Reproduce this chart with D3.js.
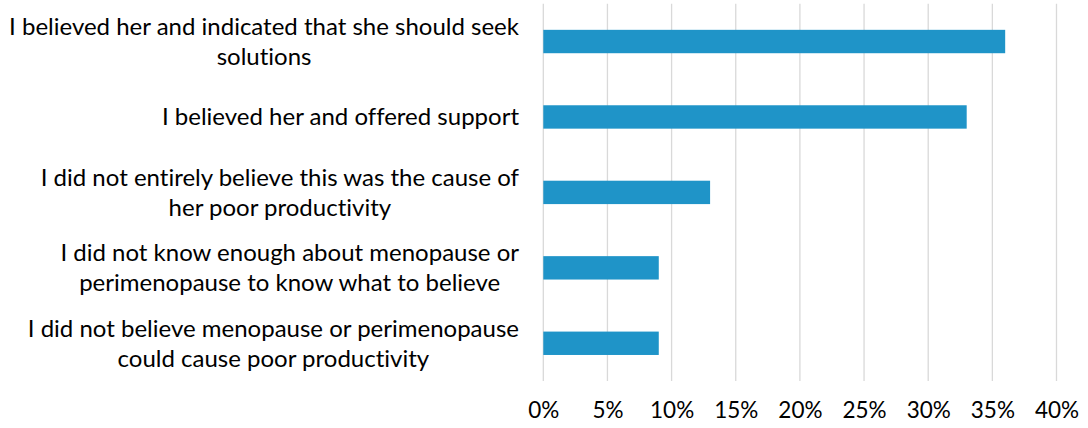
<!DOCTYPE html>
<html><head><meta charset="utf-8">
<script src="https://cdn.jsdelivr.net/npm/d3@7"></script>
<style>body{margin:0;background:#fff}svg{display:block}text{font-family:Lato,sans-serif;fill:#000;font-variant-ligatures:none;font-feature-settings:"liga" 0}</style>
</head><body><svg id="c" width="1088" height="428"></svg>
<script>
const categories = [
  ["I believed her and indicated that she should seek", "solutions"],
  ["I believed her and offered support"],
  ["I did not entirely believe this was the cause of", "her poor productivity"],
  ["I did not know enough about menopause or", "perimenopause to know what to believe"],
  ["I did not believe menopause or perimenopause", "could cause poor productivity"]
];
const values = [36, 33, 13, 9, 9];
const tickValues = [0, 5, 10, 15, 20, 25, 30, 35, 40];

const svg = d3.select("#c");
const x = d3.scaleLinear().domain([0, 40]).range([543.3, 1056.5]);
const y = d3.scaleBand().domain(d3.range(categories.length)).range([3.8, 381]).paddingInner(0.69).paddingOuter(0.345);

svg.append("g").selectAll("line").data(tickValues).join("line")
  .attr("x1", d => x(d)).attr("x2", d => x(d))
  .attr("y1", 3.8).attr("y2", 381)
  .attr("stroke", "#d9d9d9").attr("stroke-width", 1.3);

svg.append("g").selectAll("rect").data(values).join("rect")
  .attr("x", x(0)).attr("y", (d, i) => y(i))
  .attr("width", d => x(d) - x(0)).attr("height", y.bandwidth())
  .attr("fill", "#1F94C8");

const xAxis = d3.axisBottom(x).tickValues(tickValues).tickFormat(d => d + "%").tickSize(0).tickPadding(0);
const gx = svg.append("g").attr("transform", "translate(0,402)").call(xAxis);
gx.select(".domain").remove();
gx.selectAll("text").attr("font-size", 22.5).attr("font-family", "Lato").attr("fill", "#000");

const fs = 24, lh = 30, rightEdge = 519;
const lg = svg.append("g");
categories.forEach((lines, i) => {
  const cy = y(i) + y.bandwidth() / 2;
  const t = lg.append("text").attr("font-size", fs).attr("text-anchor", "middle");
  const spans = lines.map((l, k) => t.append("tspan").text(l)
    .attr("y", cy + (k - (lines.length - 1) / 2) * lh).attr("dy", "0.35em"));
  const w = d3.max(spans, s => s.node().getComputedTextLength());
  spans.forEach(s => s.attr("x", rightEdge - w / 2));
});
</script></body></html>
